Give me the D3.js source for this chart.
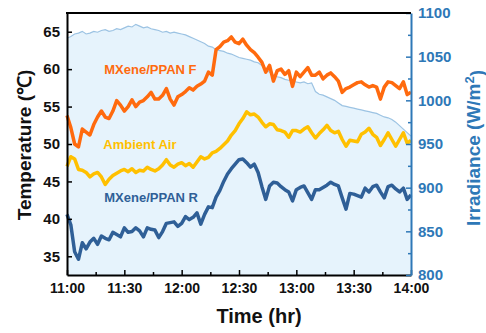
<!DOCTYPE html>
<html>
<head>
<meta charset="utf-8">
<script src="https://cdn.jsdelivr.net/npm/d3@7"></script>
<style>
  html, body { margin: 0; padding: 0; background: #fff; }
  svg { display: block; font-family: Arial, "Liberation Sans", sans-serif; font-weight: bold; }
</style>
</head>
<body>
<svg id="chart" width="486" height="333"></svg>
<script>
// sampled every 2 min from 11:00 to 14:00
const stepMin = 2;

const timeTicks = ['11:00', '11:30', '12:00', '12:30', '13:00', '13:30', '14:00'];
const tempTicks = [35, 40, 45, 50, 55, 60, 65];
const irrTicks = [800, 850, 900, 950, 1000, 1050, 1100];

const irradiance = [
  1071, 1073, 1076, 1077, 1079, 1076, 1077, 1079, 1078, 1080,
  1081, 1079, 1080, 1082, 1081, 1083, 1085, 1084, 1087, 1085,
  1083, 1084, 1082, 1081, 1080, 1078, 1079, 1077, 1078, 1077,
  1076, 1075, 1073, 1071, 1069, 1067, 1065, 1062, 1061, 1058,
  1057, 1056, 1054, 1053, 1051, 1049, 1048, 1047, 1046, 1044,
  1043, 1040, 1036, 1032, 1029, 1027, 1026, 1024, 1023, 1022,
  1021, 1020, 1021, 1019, 1020, 1010, 1007, 1006, 1004, 1002,
  1000, 997, 994, 993, 992, 991, 990, 989, 988, 987,
  986, 985, 983, 981, 980, 978, 975, 971, 967, 963, 959
];

const mxeneF = [
  53.8, 52.2, 50.0, 49.6, 52.0, 51.6, 51.2, 52.6, 53.6, 54.4,
  53.6, 53.4, 54.4, 55.8, 55.2, 54.4, 55.0, 55.9, 55.0, 55.6,
  55.8, 56.3, 56.9, 56.0, 56.0, 56.5, 57.4, 56.0, 55.2, 56.3,
  56.6, 57.0, 57.5, 57.2, 57.7, 58.0, 58.4, 59.6, 59.2, 62.6,
  63.0, 63.6, 63.8, 64.3, 63.6, 63.4, 64.0, 63.2, 62.6, 62.2,
  61.6, 60.9, 59.6, 60.5, 58.4, 59.8, 60.0, 59.3, 59.8, 57.7,
  59.6, 59.0, 59.6, 60.2, 59.2, 59.2, 59.6, 58.7, 59.2, 59.5,
  59.0, 58.4, 56.9, 57.4, 57.6, 57.9, 58.2, 58.3, 57.9, 57.6,
  57.8, 57.6, 56.0, 57.6, 58.3, 58.2, 57.8, 57.4, 58.3, 56.6, 56.9
];

const ambientAir = [
  47.0, 48.3, 48.0, 46.6, 46.5, 46.2, 45.6, 46.0, 46.2, 45.6,
  44.6, 45.3, 45.8, 46.1, 46.4, 46.6, 46.3, 46.7, 46.2, 46.5,
  46.4, 46.9, 46.6, 46.4, 46.7, 47.2, 47.9, 47.2, 46.9, 47.3,
  47.5, 47.1, 47.4, 46.9, 47.6, 48.3, 48.0, 48.2, 48.8, 49.0,
  49.4, 49.9, 50.4, 51.2, 51.8, 52.7, 53.4, 54.3, 53.9, 54.0,
  53.6, 52.9, 52.3, 52.7, 52.6, 51.9, 51.8, 51.6, 50.9, 51.8,
  51.8, 51.6, 52.0, 52.3, 51.5, 50.8, 51.4, 51.9, 52.5, 51.8,
  51.5, 51.7, 50.6, 49.7, 50.5, 50.4, 50.3, 51.3, 51.6, 52.1,
  51.3, 50.9, 49.8, 50.6, 51.5, 50.6, 49.7, 50.6, 51.5, 50.1, 50.5
];

const mxeneR = [
  40.6, 39.2, 35.6, 34.6, 36.8, 36.0, 36.9, 37.4, 36.6, 37.7,
  37.4, 37.2, 38.2, 37.9, 37.6, 38.8, 38.2, 38.3, 38.8, 38.4,
  37.6, 38.8, 38.6, 38.5, 37.5, 38.3, 39.4, 39.5, 39.6, 39.0,
  39.4, 40.3, 39.9, 40.2, 40.8, 39.3, 40.6, 41.6, 41.5, 42.9,
  43.8, 45.0, 46.0, 46.7, 47.3, 47.9, 48.0, 47.5, 46.9, 47.3,
  46.2, 44.3, 42.6, 44.4, 44.9, 44.8, 44.3, 43.9, 43.6, 42.4,
  43.9, 44.2, 44.4, 43.5, 42.6, 43.9, 43.9, 44.2, 44.5, 44.9,
  44.6, 44.4, 42.8, 41.3, 43.4, 43.3, 43.1, 42.9, 44.1, 43.6,
  44.3, 44.5, 43.6, 42.8, 44.3, 44.5, 44.0, 43.6, 44.1, 42.6, 43.2
];

const seriesNames = ['MXene/PPAN F', 'Ambient Air', 'MXene/PPAN R'];
const seriesColors = ['#FF6A0E', '#FFC000', '#2F5F97'];

(function() {
  'use strict';

  const svg = d3.select('#chart');
  const margin = { top: 13, right: 75, bottom: 58, left: 67 };
  const width = 486 - margin.left - margin.right;
  const height = 333 - margin.top - margin.bottom;
  const irrBlue = '#2E78B7';

  const g = svg.append('g')
    .attr('transform', `translate(${margin.left},${margin.top})`);

  const x = d3.scaleLinear().domain([0, 180]).range([0, width]);
  const yT = d3.scaleLinear().domain([32.5, 67.5]).range([height, 0]);
  const yI = d3.scaleLinear().domain([800, 1100]).range([height, 0]);

  // irradiance background
  const area = d3.area()
    .x((d, i) => x(i * stepMin))
    .y0(height)
    .y1(d => yI(d));
  g.append('path')
    .datum(irradiance)
    .attr('fill', '#E6F3FC')
    .attr('d', area);

  const irrLine = d3.line()
    .x((d, i) => x(i * stepMin))
    .y(d => yI(d));
  g.append('path')
    .datum(irradiance)
    .attr('fill', 'none')
    .attr('stroke', '#9CC3E3')
    .attr('stroke-width', 1.2)
    .attr('d', irrLine);

  // temperature lines
  const tLine = d3.line()
    .x((d, i) => x(i * stepMin))
    .y(d => yT(d));

  [mxeneF, ambientAir, mxeneR].forEach((s, k) => {
    g.append('path')
      .datum(s)
      .attr('fill', 'none')
      .attr('stroke', seriesColors[k])
      .attr('stroke-width', 3.5)
      .attr('stroke-linejoin', 'round')
      .attr('d', tLine);
  });

  // series labels (time in min, temperature)
  const labelPos = [[19.5, 59.9], [19, 49.9], [19.5, 42.9]];
  seriesNames.forEach((name, k) => {
    g.append('text')
      .attr('x', x(labelPos[k][0]))
      .attr('y', yT(labelPos[k][1]))
      .attr('dy', '0.35em')
      .attr('fill', seriesColors[k])
      .style('font-size', '13px')
      .text(name);
  });

  // axes
  const leftAxis = d3.axisLeft(yT)
    .tickValues(tempTicks)
    .tickSize(-5)
    .tickSizeOuter(0)
    .tickPadding(7);
  const gl = g.append('g').call(leftAxis);
  gl.selectAll('text').style('font-size', '15px').attr('fill', '#111');

  const minorX = d3.axisBottom(x)
    .tickValues(d3.range(15, 180, 30))
    .tickSize(-3)
    .tickSizeOuter(0)
    .tickFormat('');
  g.append('g').attr('transform', `translate(0,${height})`).call(minorX)
    .call(a => a.select('.domain').remove());

  const bottomAxis = d3.axisBottom(x)
    .tickValues(d3.range(0, 181, 30))
    .tickFormat((d, i) => timeTicks[i])
    .tickSize(-5)
    .tickSizeOuter(0)
    .tickPadding(8);
  const gb = g.append('g').attr('transform', `translate(0,${height})`).call(bottomAxis);
  gb.selectAll('text').style('font-size', '14px').attr('fill', '#111');

  const minorI = d3.axisRight(yI)
    .tickValues(d3.range(825, 1100, 50))
    .tickSize(-3)
    .tickSizeOuter(0)
    .tickFormat('');
  g.append('g').attr('transform', `translate(${width},0)`).call(minorI)
    .call(a => a.select('.domain').remove())
    .selectAll('line').attr('stroke', irrBlue);

  const rightAxis = d3.axisRight(yI)
    .tickValues(irrTicks)
    .tickFormat(d3.format('d'))
    .tickSize(-5)
    .tickSizeOuter(0)
    .tickPadding(7);
  const gr = g.append('g').attr('transform', `translate(${width},0)`).call(rightAxis);
  gr.selectAll('text').style('font-size', '15px').attr('fill', irrBlue);
  gr.selectAll('line').attr('stroke', irrBlue);
  gr.select('.domain').attr('stroke', irrBlue);

  g.selectAll('.domain').attr('stroke-width', 2);
  g.selectAll('.tick line').attr('stroke-width', 1.5);

  // top frame
  g.append('line')
    .attr('x1', -1).attr('x2', width)
    .attr('y1', 0).attr('y2', 0)
    .attr('stroke', '#000')
    .attr('stroke-width', 2);

  // axis titles
  svg.append('text')
    .attr('transform', 'translate(259,323)')
    .attr('text-anchor', 'middle')
    .style('font-size', '20px')
    .attr('fill', '#111')
    .text('Time (hr)');

  svg.append('text')
    .attr('transform', `translate(31,145) rotate(-90)`)
    .attr('text-anchor', 'middle')
    .style('font-size', '19px')
    .attr('fill', '#111')
    .text('Temperature (℃)');

  const irrTitle = svg.append('text')
    .attr('transform', `translate(480,148) rotate(-90)`)
    .attr('text-anchor', 'middle')
    .style('font-size', '19px')
    .attr('fill', irrBlue);
  irrTitle.append('tspan').text('Irradiance (W/m');
  irrTitle.append('tspan').attr('dy', '-0.45em').style('font-size', '13px').text('2');
  irrTitle.append('tspan').attr('dy', '0.45em').text(')');
})();
</script>
</body>
</html>
